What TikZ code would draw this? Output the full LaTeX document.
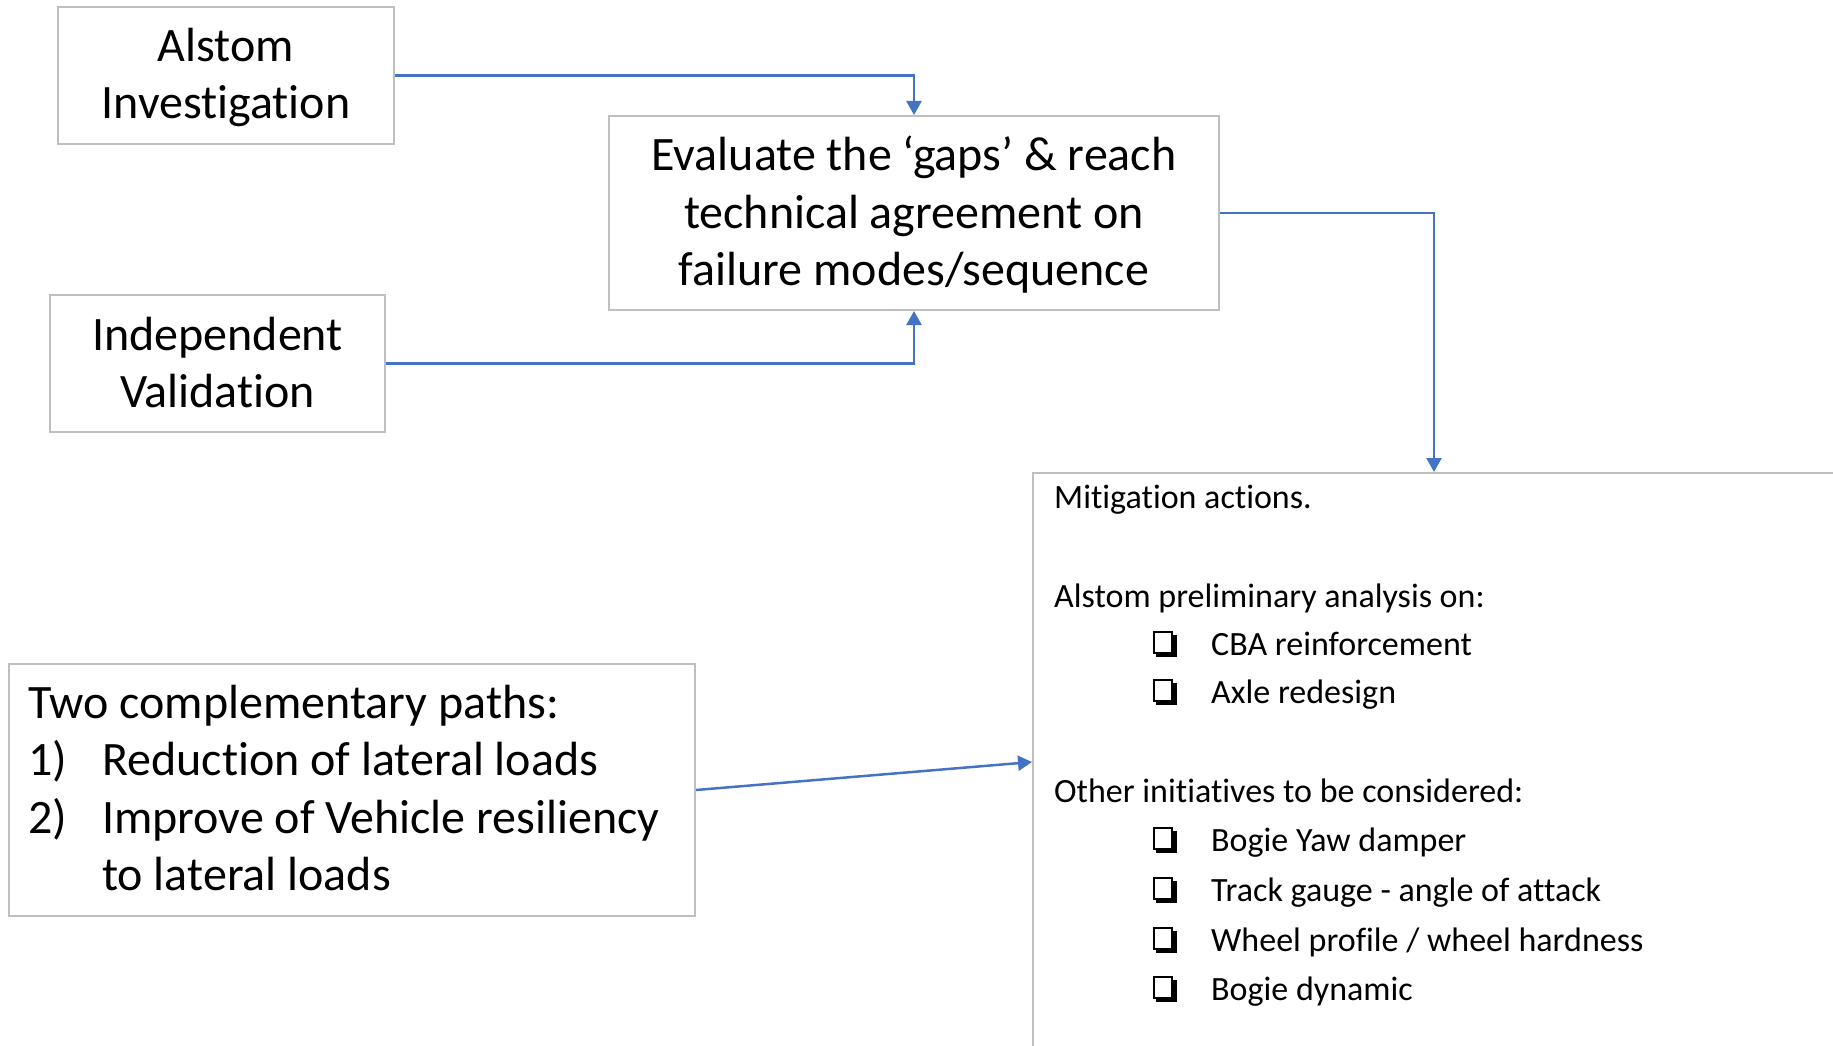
\documentclass[tikz,border=0pt]{standalone}
\usepackage{fontspec}
\setmainfont[Ligatures={NoCommon,NoContextual,NoRequired},Contextuals={NoAlternate}]{Carlito}
\usetikzlibrary{arrows.meta}
\definecolor{linkblue}{HTML}{4472C4}
\definecolor{boxgray}{HTML}{BFBFBF}
\begin{document}
\begin{tikzpicture}[x=1pt,y=-1pt,
  box/.style={draw=boxgray, line width=2pt, fill=white, inner sep=0pt},
  big/.style={font=\fontsize{48}{58}\selectfont, inner sep=0pt, anchor=base},
  bigl/.style={font=\fontsize{48}{58}\selectfont, inner sep=0pt, anchor=base west},
  small/.style={font=\fontsize{34}{41}\selectfont, inner sep=0pt, anchor=base west},
  link/.style={draw=linkblue, line width=2.5pt, -{Triangle[length=14pt,width=15pt]}},
  qbullet/.pic={
    \draw[line width=2pt] (1,-23) rectangle (19,-2);
    \fill (20,-20) rectangle (24,2);
    \fill (3,-1) rectangle (24,2);
  }]
\useasboundingbox (0,0) rectangle (1833,1046);
\clip (0,0) rectangle (1833,1046);
\fill[white] (0,0) rectangle (1833,1046);
% boxes
\node[box, minimum width=336pt, minimum height=137pt] (alstom) at (226,75.5) {};
\node[box, minimum width=335pt, minimum height=137pt] (indep) at (217.5,363.5) {};
\node[box, minimum width=610pt, minimum height=194pt] (eval) at (914,213) {};
\node[box, minimum width=686pt, minimum height=252pt] (two) at (352,790) {};
\node[box, minimum width=802pt, minimum height=578pt] (mit) at (1434,762) {};
% connectors
\draw[link] (alstom.east) -| (eval.north);
\draw[link] (indep.east) -| (eval.south);
\draw[link] (eval.east) -| (mit.north);
\draw[link] (two.east) -- (mit.west);
% texts
\node[big] (alstomA) at (226,62) {Alstom};
\node[big] (alstomB) at (226,119) {Investigation};
\node[big] (indepA) at (217.5,350) {Independent};
\node[big] (indepB) at (217.5,407) {Validation};
\node[big] (evalA) at (914,170) {Evaluate the ‘gaps’ \& reach};
\node[big] (evalB) at (914,228) {technical agreement on};
\node[big] (evalC) at (914,285) {failure modes/sequence};
\node[bigl] (twoA) at (28,718) {Two complementary paths:};
\node[bigl] (twoB1) at (28,775) {1)};
\node[bigl] (twoB) at (102,775) {Reduction of lateral loads};
\node[bigl] (twoC1) at (28,833) {2)};
\node[bigl] (twoC) at (102,833) {Improve of Vehicle resiliency};
\node[bigl] (twoD) at (102,890) {to lateral loads};
\node[small] (mitA) at (1054,508) {Mitigation actions.};
\node[small] (mitB) at (1054,607) {Alstom preliminary analysis on:};
\pic at (1153,655) {qbullet};
\node[small] (i1) at (1211,655) {CBA reinforcement};
\pic at (1153,703) {qbullet};
\node[small] (i2) at (1211,703) {Axle redesign};
\node[small] (mitC) at (1054,802) {Other initiatives to be considered:};
\pic at (1153,851) {qbullet};
\node[small] (i3) at (1211,851) {Bogie Yaw damper};
\pic at (1153,901) {qbullet};
\node[small] (i4) at (1211,901) {Track gauge - angle of attack};
\pic at (1153,951) {qbullet};
\node[small] (i5) at (1211,951) {Wheel profile / wheel hardness};
\pic at (1153,1000) {qbullet};
\node[small] (i6) at (1211,1000) {Bogie dynamic};
\end{tikzpicture}
\end{document}
